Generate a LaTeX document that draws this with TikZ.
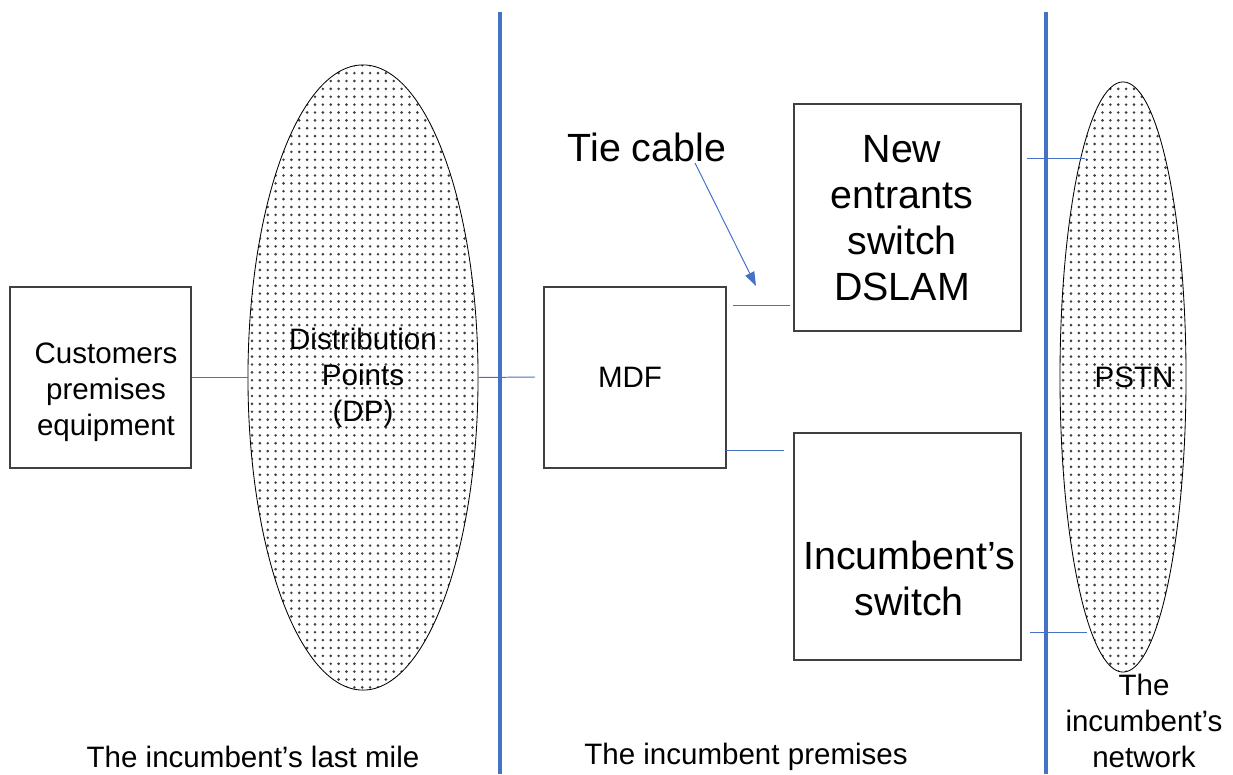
\documentclass[tikz,border=0pt]{standalone}
\usepackage{fontspec}
\setmainfont{Liberation Sans}
\usepackage{xcolor}
\usepackage{tikz}
\usetikzlibrary{positioning}
\usetikzlibrary{shapes.geometric}
\usetikzlibrary{patterns.meta}
\usetikzlibrary{arrows.meta}
\definecolor{linkblue}{RGB}{68,114,196}
\pgfdeclarelayer{nodelayer}
\pgfdeclarelayer{edgelayer}
\pgfsetlayers{nodelayer,edgelayer,main}
\tikzset{
  unitbox/.style={draw=black!75, line width=0.9pt, fill=white, inner sep=0pt},
  dotcloud/.style={ellipse, draw=black, line width=0.6pt, inner sep=0pt,
    pattern={Dots[distance=5.6pt, radius=1pt]}, pattern color=black!75},
  smalltext/.style={font=\fontsize{21}{25.5}\selectfont, align=center, inner sep=0pt},
  bigtext/.style={font=\fontsize{28}{32.6}\selectfont, align=center, inner sep=0pt},
  linkline/.style={draw=linkblue, line width=0.7pt},
  splitline/.style={draw=linkblue, line width=2.8pt},
}

\begin{document}
\begin{tikzpicture}[x=0.025cm, y=-0.025cm]
  \useasboundingbox (0, 0) rectangle (1233, 774);
  \begin{pgfonlayer}{nodelayer}
    \node [unitbox, minimum width=4.525cm, minimum height=4.525cm] (0) at (100.5, 377.5) {};
    \node [smalltext] (1) at (106, 392) {Customers\\premises\\equipment};
    \node [dotcloud, minimum width=5.75cm, minimum height=15.625cm, smalltext] (2) at (363, 377.5) {Distribution\\Points\\(DP)};
    \node [unitbox, minimum width=4.55cm, minimum height=4.525cm] (3) at (635, 377.5) {};
    \node [smalltext] (4) at (630, 377) {MDF};
    \node [unitbox, minimum width=5.675cm, minimum height=5.675cm] (5) at (907.5, 217.5) {};
    \node [bigtext] (6) at (902, 218) {New\\entrants\\switch\\DSLAM};
    \node [unitbox, minimum width=5.675cm, minimum height=5.675cm] (7) at (907.5, 546.5) {};
    \node [bigtext] (8) at (909, 578) {Incumbent's\\switch};
    \node [dotcloud, minimum width=3.15cm, minimum height=14.75cm] (9) at (1123, 377) {};
    \node [smalltext] (10) at (1134, 377) {PSTN};
    \node [bigtext] (11) at (647, 147) {Tie cable};
    \node [smalltext] (12) at (253, 757) {The incumbent's last mile};
    \node [smalltext] (13) at (746, 757) {The incumbent premises};
    \node [smalltext] (14) at (1144, 721) {The\\incumbent's\\network};
    \coordinate (15) at (535, 377);
    \coordinate (16) at (733, 305);
    \coordinate (17) at (790, 305);
    \coordinate (18) at (726, 450);
    \coordinate (19) at (784, 450);
    \coordinate (20) at (1027, 158);
    \coordinate (21) at (1085, 158);
    \coordinate (22) at (1030, 632);
    \coordinate (23) at (1087, 632);
    \coordinate (24) at (695, 163);
    \coordinate (25) at (756, 286);
    \coordinate (26) at (500, 12);
    \coordinate (27) at (500, 774);
    \coordinate (28) at (1046, 12);
    \coordinate (29) at (1046, 774);
  \end{pgfonlayer}
  \begin{pgfonlayer}{edgelayer}
    \draw [splitline] (26) to (27);
    \draw [splitline] (28) to (29);
  \end{pgfonlayer}
  \draw [linkline] (0.east) to (2.west);
  \draw [linkline] (2.east) to (15);
  \draw [linkline] (16) to (17);
  \draw [linkline] (18) to (19);
  \draw [linkline] (20) to (21);
  \draw [linkline] (22) to (23);
  \draw [linkline, -{Triangle[length=10pt, width=7pt]}] (24) to (25);
\end{tikzpicture}
\end{document}
